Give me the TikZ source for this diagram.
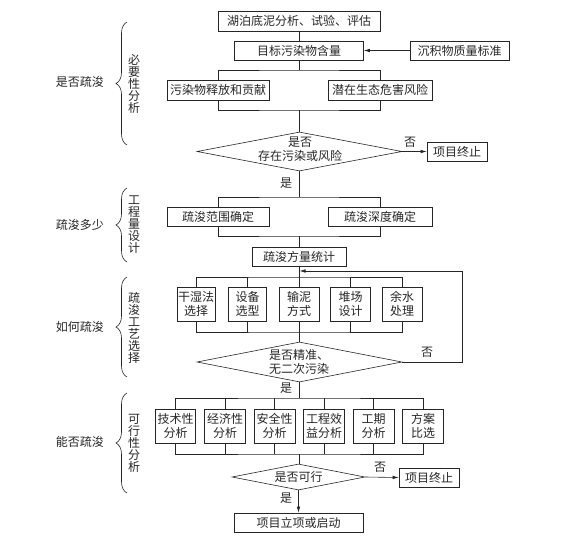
\documentclass[tikz,border=0pt]{standalone}
\usepackage{fontspec}
\setmainfont{Noto Sans CJK SC}
\usetikzlibrary{shapes.geometric,arrows.meta,decorations.pathreplacing}
\begin{document}
\begin{tikzpicture}[x=1pt,y=-1pt,line width=0.6pt,draw=black!85,text=black!85,
  every node/.style={inner sep=0pt,font=\fontsize{12}{14}\selectfont},
  box/.style={draw,minimum height=19pt,align=center},
  sbox/.style={draw,minimum height=34pt,align=center},
  dia/.style={draw,diamond,inner sep=0pt},
  arr/.style={-{Latex[length=6pt,width=3.5pt]}},
  brc/.style={decorate,decoration={brace,amplitude=11pt,aspect=0.5}},
  vtext/.style={align=center,font=\fontsize{12}{12}\selectfont}]
\useasboundingbox (0,0) rectangle (582,541);
% ---------- section 1
\node[box,minimum width=162pt,minimum height=20pt] (b1) at (299,21) {湖泊底泥分析、试验、评估};
\node[box,minimum width=129pt] (b2) at (299,50.5) {目标污染物含量};
\node[box,minimum width=99pt] (std) at (459.5,50.5) {沉积物质量标准};
\node[box,minimum width=102pt,minimum height=20pt] (b3) at (218,90) {污染物释放和贡献};
\node[box,minimum width=104pt,minimum height=20pt] (b4) at (380,90) {潜在生态危害风险};
\node[dia,minimum width=205pt,minimum height=39pt] (d1) at (299.5,151.5) {};
\node[align=center] (d1t) at (300,149) {是否\\存在污染或风险};
\node[box,minimum width=60pt] (end1) at (457,151.5) {项目终止};
\node (no1) at (410,142) {否};
\node (yes1) at (286,183) {是};
\coordinate (s1) at (299,70);
\coordinate (m1) at (299,110);
\draw (b1.south) -- (b2.north);
\draw[arr] (std.west) -- (b2.east);
\draw (b2.south) -- (s1);
\draw (b3.north) |- (s1) -| (b4.north);
\draw (b3.south) |- (m1) -| (b4.south);
\draw (m1) -- (m1 |- d1.north);
\draw[arr] (d1.east) -- (end1.west);
% ---------- section 2
\coordinate (s2) at (299,197);
\coordinate (m2) at (299,236);
\node[box,minimum width=102pt] (b5) at (218,216.5) {疏浚范围确定};
\node[box,minimum width=104pt] (b6) at (380,216.5) {疏浚深度确定};
\node[box,minimum width=94pt] (b7) at (299,256.5) {疏浚方量统计};
\draw (s2 |- d1.south) -- (s2);
\draw (b5.north) |- (s2) -| (b6.north);
\draw (b5.south) |- (m2) -| (b6.south);
\draw (m2) -- (b7.north);
% ---------- section 3
\coordinate (s3) at (299,277);
\coordinate (m3) at (299,332);
\node[sbox,minimum width=38pt] (c1) at (196,304) {干湿法\\选择};
\node[sbox,minimum width=38pt] (c2) at (247.5,304) {设备\\选型};
\node[sbox,minimum width=40pt] (c3) at (299,304) {输泥\\方式};
\node[sbox,minimum width=40pt] (c4) at (350.5,304) {堆场\\设计};
\node[sbox,minimum width=40pt] (c5) at (402,304) {余水\\处理};
\draw (b7.south) -- (s3);
\draw (c1.north) |- (s3) -| (c5.north);
\draw (c2.north) -- (c2.north |- s3);
\draw (c3.north) -- (s3);
\draw (c4.north) -- (c4.north |- s3);
\draw (c1.south) |- (m3) -| (c5.south);
\draw (c2.south) -- (c2.south |- m3);
\draw (c3.south) -- (m3);
\draw (c4.south) -- (c4.south |- m3);
\node[dia,minimum width=205pt,minimum height=40pt] (d2) at (299.5,362) {};
\node[align=center] (d2t) at (299,361.5) {是否精准、\\无二次污染};
\draw (m3) -- (m3 |- d2.north);
\coordinate (fb1) at (462,362);
\coordinate (fb2) at (299.5,271);
\draw[arr] (d2.east) -- (fb1) |- (fb2);
\node (no2) at (427,352) {否};
\node (yes2) at (286,388) {是};
% ---------- section 4
\coordinate (s4) at (299,398);
\coordinate (m4) at (299,454);
\node[sbox,minimum width=40pt] (e1) at (175.5,426) {技术性\\分析};
\node[sbox,minimum width=41pt] (e2) at (225,426) {经济性\\分析};
\node[sbox,minimum width=41pt] (e3) at (274.5,426) {安全性\\分析};
\node[sbox,minimum width=41pt] (e4) at (324,426) {工程效\\益分析};
\node[sbox,minimum width=41pt] (e5) at (373.5,426) {工期\\分析};
\node[sbox,minimum width=41pt] (e6) at (423,426) {方案\\比选};
\draw (s4 |- d2.south) -- (s4);
\draw (e1.north) |- (s4) -| (e6.north);
\foreach \n in {e2,e3,e4,e5} \draw (\n.north) -- (\n.north |- s4);
\draw (e1.south) |- (m4) -| (e6.south);
\foreach \n in {e2,e3,e4,e5} \draw (\n.south) -- (\n.south |- m4);
\node[dia,minimum width=133pt,minimum height=26pt] (d3) at (298.5,477) {};
\node (d3t) at (298.5,477) {是否可行};
\draw (m4) -- (m4 |- d3.north);
\node[box,minimum width=60pt] (end2) at (429,477.5) {项目终止};
\draw[arr] (d3.east) -- (end2.west);
\node (no3) at (380,467) {否};
\node (yes3) at (286,498) {是};
\node[box,minimum width=129pt] (fin) at (298.5,522.5) {项目立项或启动};
\draw[arr] (d3.south) -- (fin.north);
% ---------- left braces and labels
\coordinate (br1a) at (127,145); \coordinate (br1b) at (127,22);
\coordinate (br2a) at (127,262); \coordinate (br2b) at (127,188);
\coordinate (br3a) at (127,377); \coordinate (br3b) at (127,277);
\coordinate (br4a) at (127,493); \coordinate (br4b) at (127,393);
\draw[brc] (br1a) -- (br1b);
\draw[brc] (br2a) -- (br2b);
\draw[brc] (br3a) -- (br3b);
\draw[brc] (br4a) -- (br4b);
\node[vtext] (v1) at (134,84) {必\\要\\性\\分\\析};
\node[vtext] (v2) at (134,225) {工\\程\\量\\设\\计};
\node[vtext] (v3) at (134,327.5) {疏\\浚\\工\\艺\\选\\择};
\node[vtext] (v4) at (134,443) {可\\行\\性\\分\\析};
\node (l1) at (80,82) {是否疏浚};
\node (l2) at (80,225) {疏浚多少};
\node (l3) at (80,327) {如何疏浚};
\node (l4) at (80,442) {能否疏浚};
\end{tikzpicture}
\end{document}
